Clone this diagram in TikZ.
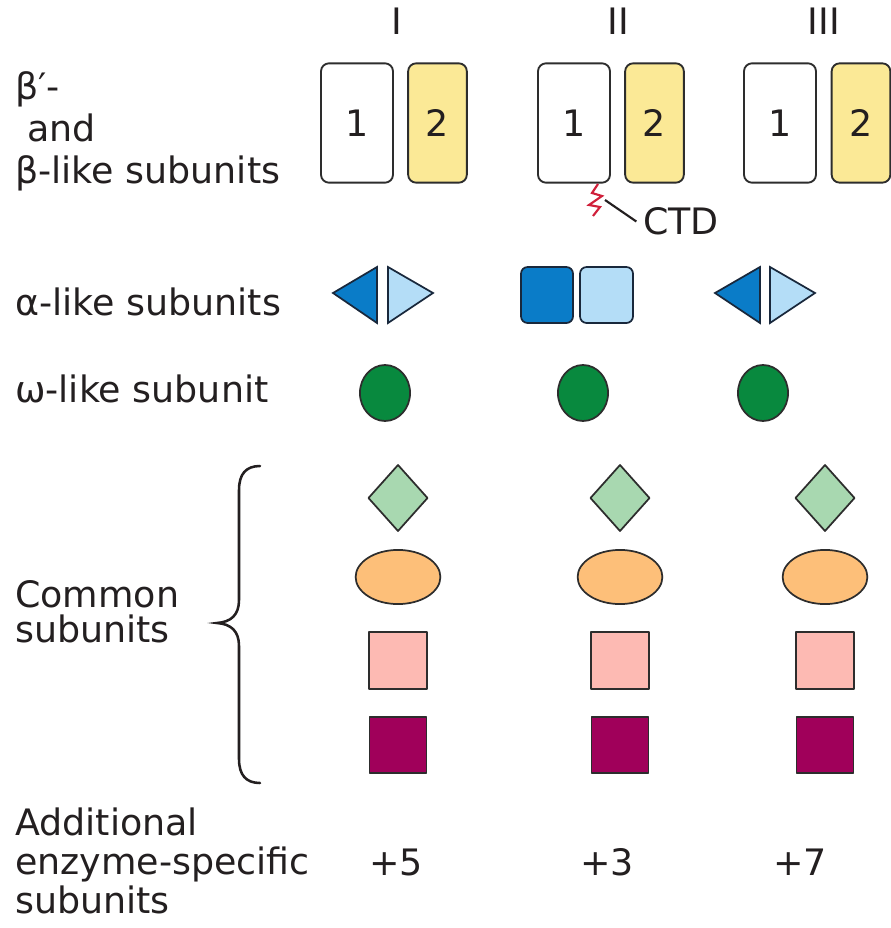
\documentclass[tikz,border=0pt]{standalone}
\usepackage{fontspec}
\setmainfont{DejaVu Sans}
\definecolor{ink}{RGB}{35,31,32}
\definecolor{edge}{RGB}{45,45,45}
\definecolor{yellowfill}{RGB}{251,233,150}
\definecolor{darkblue}{RGB}{10,124,200}
\definecolor{lightblue}{RGB}{180,221,247}
\definecolor{blueedge}{RGB}{25,40,60}
\definecolor{omegagreen}{RGB}{8,137,62}
\definecolor{diamondgreen}{RGB}{168,216,176}
\definecolor{ovalorange}{RGB}{253,191,121}
\definecolor{squarepink}{RGB}{253,186,179}
\definecolor{squarepurple}{RGB}{160,0,90}
\definecolor{ctdred}{RGB}{208,32,58}
\newcommand{\labfont}{\fontsize{27.3}{32}\selectfont}
\tikzset{
  lab/.style={font=\labfont, text=ink, inner sep=0pt, anchor=base west},
  hdr/.style={font=\labfont, text=ink, inner sep=0pt},
  sub/.style={draw=edge, line width=1.4pt, rounded corners=6pt, minimum height=89.5pt, inner sep=0pt, font=\labfont, text=ink},
  bone/.style={sub, fill=white, minimum width=54pt},
  btwo/.style={sub, fill=yellowfill, minimum width=44pt},
  shapeline/.style={draw=edge, line width=1.3pt, line join=round},
  tri/.style={draw=blueedge, line width=1.3pt, line join=miter},
  bluebox/.style={draw=blueedge, line width=1.3pt, rounded corners=5pt},
}
\begin{document}
\begin{tikzpicture}[x=0.75pt,y=-0.75pt]
\useasboundingbox (0,0) rectangle (890,928);

% column headers
\node[hdr] (hI) at (397,21.5) {I};
\node[hdr] (hII) at (618,21.5) {II};
\node[hdr] (hIII) at (824,21.5) {III};

% row labels
\node[lab] (lb1) at (15,99) {β{\fontspec{DejaVu Sans}′}-};
\node[lab] (lb2) at (27,141) {and};
\node[lab] (lb3) at (15,183) {β-like subunits};
\node[lab] (la) at (15,315) {α-like subunits};
\node[lab] (lw) at (15,402) {ω-like subunit};
\node[lab] (lc1) at (15,607) {Common};
\node[lab] (lc2) at (15,642) {subunits};
\node[lab] (ld1) at (15,835) {Additional};
\node[lab] (ld2) at (15,874) {enzyme-specific};
\node[lab] (ld3) at (15,913) {subunits};

% beta' / beta boxes
\node[bone] (b1I) at (357,123) {1};
\node[btwo] (b2I) at (437.5,123) {2};
\node[bone] (b1II) at (574,123) {1};
\node[btwo] (b2II) at (654.5,123) {2};
\node[bone] (b1III) at (780,123) {1};
\node[btwo] (b2III) at (861,123) {2};

% CTD
\coordinate (ctdtop) at (598,184);
\coordinate (ctdend) at (605,200);
\draw[ctdred, line width=1.6pt, line join=miter]
  (ctdtop) -- (592,193) -- (602,196) -- (589,205) -- (600,207) -- (593,216);
\node[hdr, anchor=west] (ctd) at (643,221.5) {CTD};
\draw[ink, line width=1.6pt] (ctdend) -- ([xshift=-5pt]ctd.west);

% alpha-like
\draw[tri, fill=darkblue] (333,293) -- (377,267) -- (377,323) -- cycle;
\draw[tri, fill=lightblue] (388,267) -- (433,293) -- (388,323) -- cycle;
\draw[bluebox, fill=darkblue] (521,267) rectangle (573,323);
\draw[bluebox, fill=lightblue] (580,267) rectangle (633,323);
\draw[tri, fill=darkblue] (715,293) -- (760,267) -- (760,323) -- cycle;
\draw[tri, fill=lightblue] (770,267) -- (815,293) -- (770,323) -- cycle;

% omega-like
\foreach \cx in {385,583,763}{
  \draw[shapeline, fill=omegagreen] (\cx,393) ellipse [x radius=18.8pt, y radius=21pt];
}

% common subunits
\foreach \cx in {398,620,825}{
  \draw[shapeline, fill=diamondgreen] (\cx,465) -- (\cx+29.5,498) -- (\cx,531) -- (\cx-29.5,498) -- cycle;
  \draw[shapeline, fill=ovalorange] (\cx,577) ellipse [x radius=31.8pt, y radius=20.3pt];
  \draw[shapeline, fill=squarepink] (\cx-29,632) rectangle (\cx+29,689);
  \draw[shapeline, fill=squarepurple] (\cx-28.5,717) rectangle (\cx+28.5,773);
}

% brace
\draw[ink, line width=1.9pt, line cap=round]
  (260,466) .. controls (246,466) and (239,474) .. (239,490)
  -- (239,600) .. controls (239,615) and (231,622) .. (217,623)
  .. controls (231,624) and (239,631) .. (239,646)
  -- (239,759) .. controls (239,775) and (246,783) .. (260,783);

% additional counts
\node[hdr] (nI) at (396,862.5) {+5};
\node[hdr] (nII) at (607,862.5) {+3};
\node[hdr] (nIII) at (800,862.5) {+7};
\end{tikzpicture}
\end{document}
